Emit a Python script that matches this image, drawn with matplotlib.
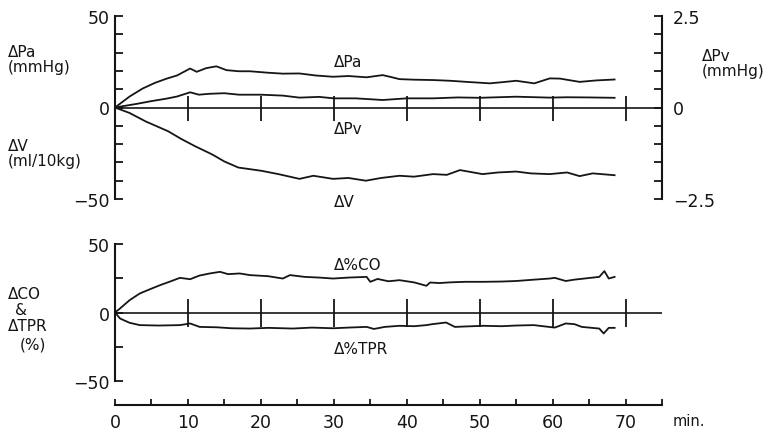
import numpy as np
import matplotlib
matplotlib.use("Agg")
import matplotlib.pyplot as plt
from matplotlib.ticker import FixedLocator

# ---- data ----
t_pa = [0, 2, 3.8, 5.5, 7.1, 8.5, 10.3, 11.2, 12.5, 13.9, 15.3, 17, 18.5, 21, 23, 25.3, 27.5, 29.9,
        32, 34.5, 36.7, 38, 39, 41, 43.6, 46, 48.2, 51.4, 53, 55, 57.5, 59.6, 61, 63.7, 66, 68.5]
pa = [0, 6, 10.4, 13.5, 15.8, 17.5, 21.3, 19.5, 21.5, 22.5, 20.4, 19.8, 19.8, 19, 18.5, 18.6, 17.5, 16.8,
      17.2, 16.5, 17.7, 16.5, 15.5, 15.2, 15, 14.6, 14, 13.2, 13.8, 14.6, 13.2, 15.9, 15.8, 14, 14.8, 15.3]

# venous pressure, mmHg (right axis)
t_pv = [0, 3, 5, 7, 8.5, 10.3, 11.5, 13, 15, 17, 20, 23, 25.3, 28, 30, 33, 36.7, 40, 43.6,
        47, 50, 55, 59.6, 62, 65, 68.5]
pv = [0, 0.10, 0.175, 0.24, 0.30, 0.415, 0.35, 0.375, 0.39, 0.35, 0.35, 0.325, 0.27, 0.29, 0.25,
      0.25, 0.205, 0.25, 0.25, 0.275, 0.265, 0.295, 0.27, 0.28, 0.275, 0.265]

# volume, ml/10kg
t_v = [0, 2, 4.2, 7.3, 9, 10.9, 13.3, 15, 16.9, 20.1, 22.4, 25.3, 27.2, 29.9, 32, 34.4, 36.5, 39,
       41, 43.6, 45.5, 47.3, 50.4, 52.5, 55, 57, 59.6, 62, 63.7, 65.5, 68.5]
dv = [0, -3, -7.6, -13, -17, -21, -25.6, -29.5, -32.8, -34.6, -36.4, -39, -37.3, -39, -38.5, -40,
      -38.5, -37.3, -37.8, -36.4, -36.8, -34.2, -36.4, -35.5, -35, -36, -36.4, -35.5, -37.5, -36, -37]

t_co = [0, 0.7, 2, 3.4, 4.8, 6.2, 7.5, 8.9, 10.3, 11.6, 13, 14.4, 15.5, 17.1, 18.5, 21, 23, 24, 26,
        28, 29.9, 32, 34.5, 35, 36, 37.5, 39, 41, 42.7, 43.2, 44.5, 45.9, 48, 50.5, 53, 55, 57.5,
        59.6, 60.3, 61.8, 63, 66.4, 67.1, 67.7, 68.5]
co = [0, 3, 9, 13.9, 17, 20, 22.5, 25.3, 24.3, 27, 28.5, 29.7, 28, 28.5, 27.3, 26.5, 24.8, 27.3, 26,
      25.5, 24.8, 25.5, 26, 22.4, 24.5, 22.8, 23.6, 22, 19.5, 21.9, 21.5, 22, 22.4, 22.4, 22.6, 23,
      24, 24.8, 25.3, 23, 24, 26, 30.2, 24.8, 26]

t_tpr = [0, 0.7, 2, 3.4, 6, 8.9, 10.3, 11.6, 14, 16, 18.5, 21, 24.4, 27, 29.9, 32, 34.5, 35.5, 37,
         39, 41, 42.7, 43.5, 45.4, 46.6, 48, 50.5, 53, 55, 57.4, 60.3, 61.8, 63, 64, 66.4, 67,
         67.7, 68.5]
tpr = [0, -4.4, -7.5, -9.2, -9.5, -9.2, -8, -10.5, -10.8, -11.5, -11.7, -11.2, -11.7, -11, -11.5,
       -11, -10.5, -12, -10.5, -9.7, -10, -9.2, -8.5, -7.3, -10.5, -10.2, -9.7, -10, -9.5, -9.2,
       -11, -8, -8.5, -10.5, -11.7, -15.3, -11.2, -11.2]

zero_marks = [10, 20, 30, 40, 50, 60, 70]
x_ticks = np.arange(0, 76, 5)
x_labels = ["0", "10", "20", "30", "40", "50", "60", "70"]

ink = "#151515"
lw = 1.3
fs = 11       # axis titles / curve labels
tfs = 12.5    # tick labels
W, H = 767, 435

fig = plt.figure(figsize=(W / 100, H / 100), dpi=100)

def px(x, y):
    return x / W, 1 - y / H

# ---------------- top panel ----------------
ax1 = fig.add_axes([115 / W, 1 - 200 / H, 547 / W, 183 / H])
ax1.set_xlim(0, 75)
ax1.set_ylim(-50, 50)
ax1.plot(t_pa, pa, color=ink, lw=lw)
ax1.plot(t_v, dv, color=ink, lw=lw)
ax1.axhline(0, color=ink, lw=1.2)
ax1.plot(zero_marks, np.zeros(len(zero_marks)), ls="none", marker="|", ms=18, mew=1.3, color=ink)
for s in ["top", "bottom", "right"]:
    ax1.spines[s].set_visible(False)
ax1.spines["left"].set_linewidth(1.5)
ax1.spines["left"].set_color(ink)
ax1.set_xticks([])
ax1.yaxis.set_major_locator(FixedLocator([-50, 0, 50]))
ax1.yaxis.set_minor_locator(FixedLocator(np.arange(-40, 41, 10)))
ax1.set_yticklabels(["\u221250", "0", "50"])
ax1.tick_params(axis="y", which="both", direction="in", length=6, width=1.3, color=ink,
                labelsize=tfs, pad=4, labelcolor=ink)

ax1r = ax1.twinx()
ax1r.set_ylim(-2.5, 2.5)
ax1r.plot(t_pv, pv, color=ink, lw=lw)
for s in ["top", "bottom", "left"]:
    ax1r.spines[s].set_visible(False)
ax1r.spines["right"].set_linewidth(1.5)
ax1r.spines["right"].set_color(ink)
ax1r.yaxis.set_major_locator(FixedLocator([-2.5, 0, 2.5]))
ax1r.yaxis.set_minor_locator(FixedLocator(np.arange(-2.0, 2.01, 0.5)))
ax1r.set_yticklabels(["\u22122.5", "0", "2.5"])
ax1r.tick_params(axis="y", which="both", direction="in", length=6, width=1.3, color=ink,
                 labelsize=tfs, pad=8, labelcolor=ink)

ax1.text(30, 25, "\u0394Pa", fontsize=fs, color=ink, va="center", ha="left")
ax1.text(30, -11.5, "\u0394Pv", fontsize=fs, color=ink, va="center", ha="left")
ax1.text(30, -51.5, "\u0394V", fontsize=fs, color=ink, va="center", ha="left")

# ---------------- bottom panel ----------------
ax2 = fig.add_axes([115 / W, 1 - 406 / H, 547 / W, 161 / H])
ax2.set_xlim(0, 75)
ax2.set_ylim(-67.5, 50)
ax2.plot(t_co, co, color=ink, lw=lw)
ax2.plot(t_tpr, tpr, color=ink, lw=lw)
ax2.axhline(0, color=ink, lw=1.2)
ax2.plot(zero_marks, np.zeros(len(zero_marks)), ls="none", marker="|", ms=20, mew=1.3, color=ink)
for s in ["top", "right"]:
    ax2.spines[s].set_visible(False)
for s in ["left", "bottom"]:
    ax2.spines[s].set_linewidth(1.5)
    ax2.spines[s].set_color(ink)
ax2.spines["left"].set_bounds(-50, 50)
ax2.yaxis.set_major_locator(FixedLocator([-50, 0, 50]))
ax2.yaxis.set_minor_locator(FixedLocator([-25, 25]))
ax2.set_yticklabels(["\u221250", "0", "50"])
ax2.tick_params(axis="y", which="both", direction="in", length=6, width=1.3, color=ink,
                labelsize=tfs, pad=4, labelcolor=ink)
ax2.xaxis.set_major_locator(FixedLocator(np.arange(0, 71, 10)))
ax2.xaxis.set_minor_locator(FixedLocator(x_ticks))
ax2.set_xticklabels(x_labels)
ax2.tick_params(axis="x", which="both", direction="in", length=4, width=1.3, color=ink,
                labelsize=tfs, pad=6, labelcolor=ink)

ax2.text(30, 35, "\u0394%CO", fontsize=fs, color=ink, va="center", ha="left")
ax2.text(30, -26.3, "\u0394%TPR", fontsize=fs, color=ink, va="center", ha="left")

# ---------------- axis titles ----------------
fig.text(*px(8, 60), "\u0394Pa\n(mmHg)", fontsize=fs, color=ink, va="center", ha="left", linespacing=1.05)
fig.text(*px(8, 154), "\u0394V\n(ml/10kg)", fontsize=fs, color=ink, va="center", ha="left", linespacing=1.05)
fig.text(*px(702, 64), "\u0394Pv\n(mmHg)", fontsize=fs, color=ink, va="center", ha="left", linespacing=1.05)
fig.text(*px(8, 295), "\u0394CO", fontsize=fs, color=ink, va="center", ha="left")
fig.text(*px(15, 311), "&", fontsize=fs, color=ink, va="center", ha="left")
fig.text(*px(8, 327), "\u0394TPR", fontsize=fs, color=ink, va="center", ha="left")
fig.text(*px(20, 345), "(%)", fontsize=fs, color=ink, va="center", ha="left")
fig.text(*px(673, 422), "min.", fontsize=10.5, color=ink, va="center", ha="left")

fig.savefig("out.png", dpi=100)
